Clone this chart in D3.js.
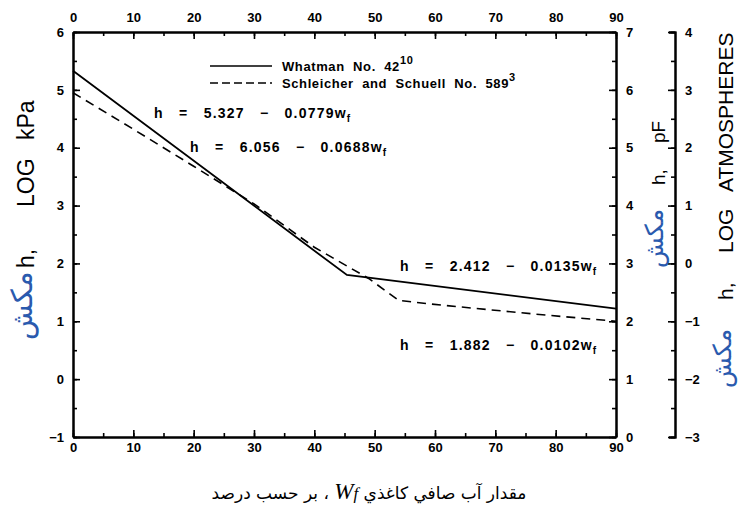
<!DOCTYPE html>
<html>
<head>
<meta charset="utf-8">
<script src="https://cdn.jsdelivr.net/npm/d3@7"></script>
<style>
  body { margin: 0; background: #fff; }
  .tick text { font-family: "Liberation Sans", Arial, sans-serif; font-weight: bold; font-size: 13px; }
</style>
</head>
<body>
<div class="visContainer"></div>
<script>
// Filter paper water content (w_f, %) and suction (h, log kPa).
const whatmanMoisture = [0, 45.4, 90];
const whatmanSuction = [5.33, 1.80, 1.22];
const ssMoisture = [0, 10, 20, 30, 40, 46, 49, 54, 61, 76, 90];
const ssSuction = [4.95, 4.32, 3.68, 3.03, 2.28, 1.92, 1.74, 1.36, 1.28, 1.13, 1.0];

// Tick values.
const moistureTicks = [0, 10, 20, 30, 40, 50, 60, 70, 80, 90];
const kPaTicks = [-1, 0, 1, 2, 3, 4, 5, 6];
const pFTicks = [0, 1, 2, 3, 4, 5, 6, 7];
const atmTicks = [-3, -2, -1, 0, 1, 2, 3, 4];

// Legend and equation texts.
const legendNames = ['Whatman No. 42', 'Schleicher and Schuell No. 589'];
const legendRefs = ['10', '3'];
const equations = [
    'h = 5.327 \u2212 0.0779w',
    'h = 6.056 \u2212 0.0688w',
    'h = 2.412 \u2212 0.0135w',
    'h = 1.882 \u2212 0.0102w'
];

// SVG constants.
const width = 738;
const height = 511;
const plotLeft = 73, plotRight = 616, plotTop = 32, plotBottom = 437;
const atmX = 675;
const blue = '#2a5aae';
const latin = '"Liberation Sans", Arial, sans-serif';
const arabic = '"DejaVu Sans", sans-serif';

const svg = d3.select('.visContainer')
              .append('svg')
              .attr('width', width)
              .attr('height', height);

// Scales.
const x = d3.scaleLinear().domain([0, 90]).range([plotLeft, plotRight]);
const y = d3.scaleLinear().domain([-1, 6]).range([plotBottom, plotTop]);
const yPF = d3.scaleLinear().domain([0, 7]).range([plotBottom, plotTop]);
const yAtm = d3.scaleLinear().domain([-3, 4]).range([plotBottom, plotTop]);

const fmt = d => d < 0 ? '\u2212' + Math.abs(d) : String(d);

function styleAxis(g, w) {
    g.select('.domain').attr('stroke-width', w);
    g.selectAll('.tick line').attr('stroke-width', 1.6);
}

// Minor ticks first.
const minorX = d3.range(0, 91, 5);
const minorY = d3.range(-1, 6.01, 0.5);
svg.append('g').attr('transform', `translate(0,${plotBottom})`)
   .call(d3.axisBottom(x).tickValues(minorX).tickSizeInner(-4).tickSizeOuter(0).tickFormat(''))
   .call(g => styleAxis(g, 2));
svg.append('g').attr('transform', `translate(0,${plotTop})`)
   .call(d3.axisTop(x).tickValues(minorX).tickSizeInner(-4).tickSizeOuter(0).tickFormat(''))
   .call(g => styleAxis(g, 2));
svg.append('g').attr('transform', `translate(${plotLeft},0)`)
   .call(d3.axisLeft(y).tickValues(minorY).tickSizeInner(-4).tickSizeOuter(0).tickFormat(''))
   .call(g => styleAxis(g, 2));
svg.append('g').attr('transform', `translate(${plotRight},0)`)
   .call(d3.axisRight(yPF).tickValues(d3.range(0, 7.01, 0.5)).tickSizeInner(-4).tickSizeOuter(0).tickFormat(''))
   .call(g => styleAxis(g, 2));
svg.append('g').attr('transform', `translate(${atmX},0)`)
   .call(d3.axisRight(yAtm).tickValues(d3.range(-3, 4.01, 0.5)).tickSizeInner(-4).tickSizeOuter(-6).tickFormat(''))
   .call(g => styleAxis(g, 2));

// Major ticks with labels.
svg.append('g').attr('transform', `translate(0,${plotBottom})`)
   .call(d3.axisBottom(x).tickValues(moistureTicks).tickSizeInner(-7).tickSizeOuter(0).tickPadding(6).tickFormat(fmt))
   .call(g => styleAxis(g, 2));
svg.append('g').attr('transform', `translate(0,${plotTop})`)
   .call(d3.axisTop(x).tickValues(moistureTicks).tickSizeInner(-7).tickSizeOuter(0).tickPadding(10).tickFormat(fmt))
   .call(g => styleAxis(g, 2));
svg.append('g').attr('transform', `translate(${plotLeft},0)`)
   .call(d3.axisLeft(y).tickValues(kPaTicks).tickSizeInner(-7).tickSizeOuter(0).tickPadding(9).tickFormat(fmt))
   .call(g => styleAxis(g, 2));
svg.append('g').attr('transform', `translate(${plotRight},0)`)
   .call(d3.axisRight(yPF).tickValues(pFTicks).tickSizeInner(-7).tickSizeOuter(0).tickPadding(10).tickFormat(fmt))
   .call(g => styleAxis(g, 2));
svg.append('g').attr('transform', `translate(${atmX},0)`)
   .call(d3.axisRight(yAtm).tickValues(atmTicks).tickSizeInner(-7).tickSizeOuter(-6).tickPadding(10).tickFormat(fmt))
   .call(g => styleAxis(g, 2));

// Data lines.
const line = d3.line().x(d => x(d[0])).y(d => y(d[1]));
svg.append('path')
   .datum(d3.zip(whatmanMoisture, whatmanSuction))
   .attr('d', line)
   .attr('fill', 'none')
   .attr('stroke', '#000')
   .attr('stroke-width', 1.8);
svg.append('path')
   .datum(d3.zip(ssMoisture, ssSuction))
   .attr('d', line)
   .attr('fill', 'none')
   .attr('stroke', '#000')
   .attr('stroke-width', 1.6)
   .attr('stroke-dasharray', '9,6');

// Legend.
const legend = svg.append('g')
                  .attr('font-family', latin)
                  .attr('font-size', '13px')
                  .attr('font-weight', 'bold')
                  .attr('letter-spacing', '0.6px');
legendNames.forEach((name, i) => {
    const ly = 66 + i * 17;
    legend.append('line')
          .attr('x1', 210).attr('x2', 272).attr('y1', ly).attr('y2', ly)
          .attr('stroke', '#000').attr('stroke-width', 1.6)
          .attr('stroke-dasharray', i === 0 ? null : '8,4');
    const t = legend.append('text').attr('x', 282).attr('y', ly + 5).attr('xml:space', 'preserve');
    t.append('tspan').text(name.replace(/ /g, '  '));
    t.append('tspan').attr('dy', -7).attr('font-size', '11px').text(legendRefs[i]);
});

// Regression equations.
const eqPos = [[154, 118], [190, 152], [400, 271], [400, 350]];
equations.forEach((eq, i) => {
    const t = svg.append('text')
                 .attr('x', eqPos[i][0]).attr('y', eqPos[i][1])
                 .attr('font-family', latin).attr('font-size', '14px').attr('font-weight', 'bold')
                 .attr('letter-spacing', '1.2px')
                 .attr('xml:space', 'preserve');
    t.append('tspan').text(eq.replace(/ /g, '   '));
    t.append('tspan').attr('dy', 4).attr('font-size', '10px').text('f');
});

// Rotated axis titles: pieces placed upward from a bottom anchor.
function rotatedTitle(tx, ty, pieces) {
    const g = svg.append('g').attr('transform', `translate(${tx},${ty}) rotate(-90)`);
    pieces.forEach(p => {
        g.append('text')
         .attr('x', p.at)
         .attr('y', p.dy || 0)
         .attr('font-family', p.arabic ? arabic : latin)
         .attr('font-size', p.size + 'px')
         .attr('fill', p.arabic ? blue : '#000')
         .text(p.text);
    });
}

rotatedTitle(34, 340, [
    { text: 'مکش', at: 0, size: 29, arabic: true, dy: -2 },
    { text: 'h,', at: 72, size: 23 },
    { text: 'LOG', at: 133, size: 23 },
    { text: 'kPa', at: 200, size: 23 }
]);
rotatedTitle(665, 268, [
    { text: 'مکش', at: 0, size: 25, arabic: true, dy: -2 },
    { text: 'h,', at: 83, size: 19 },
    { text: 'pF', at: 125, size: 19 }
]);
rotatedTitle(733, 388, [
    { text: 'مکش', at: 0, size: 25, arabic: true, dy: -2 },
    { text: 'h,', at: 88, size: 21 },
    { text: 'LOG', at: 135, size: 21 },
    { text: 'ATMOSPHERES', at: 196, size: 21 }
]);

// Bottom title.
const title = svg.append('text')
                 .attr('x', 369)
                 .attr('y', 499)
                 .attr('text-anchor', 'middle')
                 .attr('direction', 'rtl')
                 .style('unicode-bidi', 'embed')
                 .attr('font-family', arabic)
                 .attr('font-size', '17px');
title.append('tspan').text('مقدار آب صافي کاغذي ');
title.append('tspan').attr('font-family', '"Liberation Serif", serif').attr('font-style', 'italic').attr('font-size', '23px').text('W');
title.append('tspan').attr('font-family', '"Liberation Serif", serif').attr('font-style', 'italic').attr('font-size', '17px').text('f');
title.append('tspan').text(' ، بر حسب درصد');
</script>
</body>
</html>
